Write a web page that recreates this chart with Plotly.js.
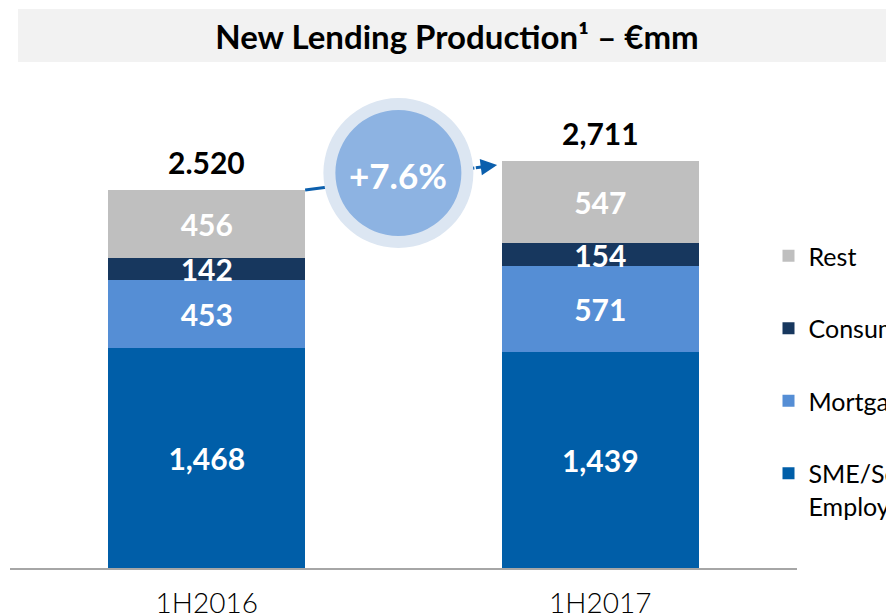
<!DOCTYPE html>
<html>
<head>
<meta charset="utf-8">
<script src="https://cdn.plot.ly/plotly-3.0.1.min.js"></script>
<style>html,body{margin:0;padding:0;background:#fff;}#chart{width:886px;height:616px;}</style>
</head>
<body>
<div id="chart"></div>
<script>
const categories = ["1H2016", "1H2017"];
const smeSelfEmployed = [1468, 1439];
const mortgages = [453, 571];
const consumer = [142, 154];
const rest = [456, 547];
const totalLabels = ["2.520", "2,711"];
const seriesNames = ["SME/Self<br>Employed", "Mortgages", "Consumer", "Rest"];
const seriesColors = ["#005ea8", "#558ed5", "#17375e", "#bfbfbf"];
const titleText = "New Lending Production¹ – €mm";

const FONT = "Lato, 'Open Sans', sans-serif";
const series = [smeSelfEmployed, mortgages, consumer, rest];
const totals = categories.map((c, i) => series.reduce((s, arr) => s + arr[i], 0));
const growth = (totals[1] / totals[0] - 1) * 100;
const growthText = "+" + growth.toFixed(1) + "%";

const traces = series.map((vals, k) => ({
  type: "bar",
  name: seriesNames[k],
  x: categories,
  y: vals,
  marker: {color: seriesColors[k], line: {width: 0}},
  text: vals.map(v => v.toLocaleString("en-US")),
  textposition: "inside",
  insidetextanchor: "middle",
  constraintext: "none",
  textfont: {family: FONT, size: 30, color: "#ffffff", weight: 700},
  hoverinfo: "skip",
  legendgroup: "g" + k,
  legendrank: series.length - k,
  showlegend: true
}));

const pxPerUnit = 0.15006;
const plotTop = 80, plotBottom = 568;
const yMax = (plotBottom - plotTop) / pxPerUnit;

// arrow geometry in data coords
const xStart = 0.25, xTip = 0.738;
const yStart = totals[0];
const yTip = totals[1] - 25;
const xTail = 0.68;
const yTail = yStart + (yTip - yStart) * (xTail - xStart) / (xTip - xStart);

const annotations = totals.map((t, i) => ({
  x: categories[i], y: t, xref: "x", yref: "y",
  text: totalLabels[i], showarrow: false,
  yanchor: "middle", yshift: 28,
  font: {family: FONT, size: 30, color: "#000000", weight: 700}
}));
annotations.push({
  x: xTip, y: yTip, xref: "x", yref: "y",
  ax: xTail, ay: yTail, axref: "x", ayref: "y",
  showarrow: true, arrowhead: 2, arrowsize: 1.1, arrowwidth: 3,
  arrowcolor: "#0b5fad", standoff: 0, text: ""
});
annotations.push({
  x: 0.487, y: 2620, xref: "x", yref: "y",
  text: growthText, showarrow: false,
  font: {family: FONT, size: 35, color: "#ffffff", weight: 700}
});

const shapes = [
  {type: "rect", xref: "paper", yref: "paper", x0: (18-10)/787, x1: (886-10)/787,
   y0: (568-62)/488, y1: (568-9)/488, fillcolor: "#f2f2f2", line: {width: 0}, layer: "below"},
  {type: "line", xref: "x", yref: "y", x0: xStart, y0: yStart, x1: xTail, y1: yTail,
   line: {color: "#0b5fad", width: 3}, layer: "above"},
  {type: "circle", xref: "x", yref: "y", xsizemode: "pixel", ysizemode: "pixel",
   xanchor: 0.487, yanchor: 2632, x0: -75, x1: 75, y0: -75, y1: 75,
   fillcolor: "#dce6f2", line: {width: 0}, layer: "above"},
  {type: "circle", xref: "x", yref: "y", xsizemode: "pixel", ysizemode: "pixel",
   xanchor: 0.487, yanchor: 2632, x0: -63, x1: 63, y0: -63, y1: 63,
   fillcolor: "#8db3e2", line: {width: 0}, layer: "above"}
];

const layout = {
  width: 886, height: 616,
  margin: {l: 10, r: 89, t: plotTop, b: 616 - plotBottom, autoexpand: false},
  paper_bgcolor: "#ffffff", plot_bgcolor: "#ffffff",
  barmode: "stack", bargap: 0.5,
  title: {text: titleText, x: 457/886, xref: "container", xanchor: "center",
          y: 1 - 37/616, yref: "container", yanchor: "middle",
          font: {family: FONT, size: 33, color: "#000000", weight: 700}},
  xaxis: {type: "category", range: [-0.5, 1.5], showline: true, linecolor: "#a6a6a6", linewidth: 1.5,
          ticks: "", showgrid: false, zeroline: false, fixedrange: true,
          tickfont: {family: FONT, size: 28, color: "#000000", weight: 300}, ticklabelstandoff: 10},
  yaxis: {range: [0, yMax], visible: false, showgrid: false, zeroline: false, fixedrange: true},
  showlegend: true,
  legend: {traceorder: "grouped", tracegroupgap: 37, x: (768.5-10)/787, xanchor: "left",
           y: 1 - (233-80)/488, yanchor: "top", valign: "top", itemwidth: 30,
           font: {family: FONT, size: 25, color: "#000000"}, bgcolor: "rgba(0,0,0,0)", borderwidth: 0},
  shapes: shapes,
  annotations: annotations
};

Plotly.newPlot("chart", traces, layout, {displayModeBar: false, staticPlot: true});
</script>
</body>
</html>
